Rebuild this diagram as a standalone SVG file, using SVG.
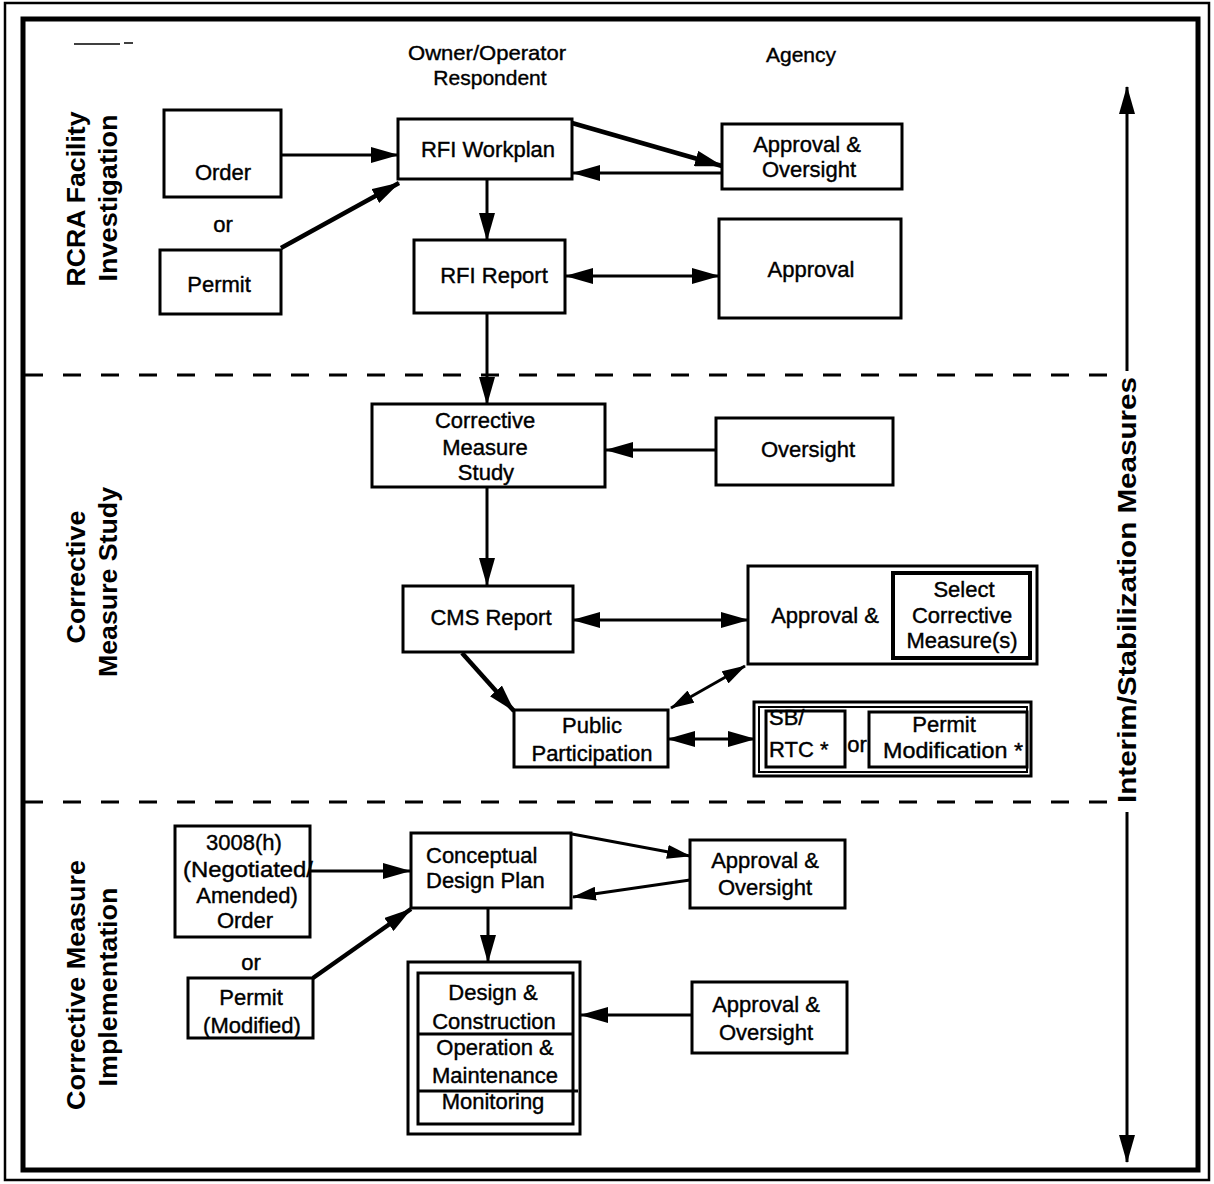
<svg xmlns="http://www.w3.org/2000/svg" width="1214" height="1184" viewBox="0 0 1214 1184">
<style>
.box{fill:#fff;stroke:#000;stroke-width:3}
.t{font-family:"Liberation Sans",Arial,Helvetica,sans-serif;font-size:22px;fill:#000;stroke:#000;stroke-width:0.4;text-anchor:middle}
.th{font-family:"Liberation Sans",Arial,Helvetica,sans-serif;font-size:21px;fill:#000;stroke:#000;stroke-width:0.4;text-anchor:middle}
.tl{font-family:"Liberation Sans",Arial,Helvetica,sans-serif;font-size:22px;fill:#000;stroke:#000;stroke-width:0.4;text-anchor:start}
.lab{font-family:"Liberation Sans",Arial,Helvetica,sans-serif;font-size:26px;font-weight:bold;fill:#000;text-anchor:middle;dominant-baseline:central}
.c{fill:none;stroke:#000;stroke-width:3}
.ck{fill:none;stroke:#000;stroke-width:4.5}
.dash{fill:none;stroke:#000;stroke-width:3;stroke-dasharray:18 20}
</style>
<defs>
<marker id="ah" markerUnits="userSpaceOnUse" markerWidth="28" markerHeight="16" viewBox="0 0 28 16" refX="27" refY="8" orient="auto-start-reverse">
<path d="M0,0 L28,8 L0,16 z" fill="#000"/>
</marker>
<marker id="ahs" markerUnits="userSpaceOnUse" markerWidth="24" markerHeight="14" viewBox="0 0 24 14" refX="23" refY="7" orient="auto-start-reverse">
<path d="M0,0 L24,7 L0,14 z" fill="#000"/>
</marker>
</defs>
<rect x="0" y="0" width="1214" height="1184" fill="#fff"/>
<g id="frame">
<rect x="5" y="3" width="1204" height="1177" fill="none" stroke="#000" stroke-width="2.5"/>
<rect x="23" y="19" width="1175" height="1151" fill="none" stroke="#000" stroke-width="5"/>
<line x1="74" y1="44" x2="120" y2="44" stroke="#000" stroke-width="1.5"/>
<line x1="124" y1="43" x2="133" y2="43" stroke="#000" stroke-width="1.5"/>
<line x1="25" y1="375" x2="1108" y2="375" class="dash"/>
<line x1="25" y1="802" x2="1110" y2="802" class="dash"/>
</g>
<g id="headers">
<text class="th" x="487" y="60" textLength="158" lengthAdjust="spacingAndGlyphs">Owner/Operator</text>
<text class="th" x="490" y="85">Respondent</text>
<text class="th" x="801" y="62">Agency</text>
</g>
<g id="phase-labels">
<text class="lab" transform="translate(76,199) rotate(-90)" textLength="175" lengthAdjust="spacingAndGlyphs">RCRA Facility</text>
<text class="lab" transform="translate(108,198) rotate(-90)" textLength="167" lengthAdjust="spacingAndGlyphs">Investigation</text>
<text class="lab" transform="translate(76,577) rotate(-90)" textLength="133" lengthAdjust="spacingAndGlyphs">Corrective</text>
<text class="lab" transform="translate(108,582) rotate(-90)" textLength="190" lengthAdjust="spacingAndGlyphs">Measure Study</text>
<text class="lab" transform="translate(76,985) rotate(-90)" textLength="250" lengthAdjust="spacingAndGlyphs">Corrective Measure</text>
<text class="lab" transform="translate(108,987) rotate(-90)" textLength="199" lengthAdjust="spacingAndGlyphs">Implementation</text>
<text class="lab" transform="translate(1127,590) rotate(-90)" textLength="426" lengthAdjust="spacingAndGlyphs">Interim/Stabilization  Measures</text>
</g>
<g id="connectors">
<line class="c" x1="281" y1="155" x2="398" y2="155" marker-end="url(#ah)"/>
<line class="ck" x1="281" y1="248" x2="399" y2="183" marker-end="url(#ah)"/>
<line class="ck" x1="572" y1="123" x2="722" y2="166" marker-end="url(#ah)"/>
<line class="c" x1="722" y1="173" x2="573" y2="173" marker-end="url(#ah)"/>
<line class="c" x1="487" y1="180" x2="487" y2="240" marker-end="url(#ah)"/>
<line class="c" x1="566" y1="276" x2="719" y2="276" marker-start="url(#ah)" marker-end="url(#ah)"/>
<line class="c" x1="487" y1="314" x2="487" y2="404" marker-end="url(#ah)"/>
<line class="c" x1="716" y1="450" x2="606" y2="450" marker-end="url(#ah)"/>
<line class="c" x1="487" y1="487" x2="487" y2="585" marker-end="url(#ah)"/>
<line class="c" x1="573" y1="620" x2="748" y2="620" marker-start="url(#ah)" marker-end="url(#ah)"/>
<line class="ck" x1="462" y1="653" x2="514" y2="711" marker-end="url(#ah)"/>
<line class="c" x1="671" y1="708" x2="745" y2="666" marker-start="url(#ahs)" marker-end="url(#ahs)"/>
<line class="c" x1="668" y1="739" x2="755" y2="739" marker-start="url(#ah)" marker-end="url(#ah)"/>
<line class="c" x1="311" y1="871" x2="410" y2="871" marker-end="url(#ah)"/>
<line class="ck" x1="313" y1="978" x2="411" y2="909" marker-end="url(#ah)"/>
<line class="c" x1="572" y1="834" x2="690" y2="856" marker-end="url(#ahs)"/>
<line class="c" x1="690" y1="880" x2="573" y2="897" marker-end="url(#ahs)"/>
<line class="c" x1="488" y1="908" x2="488" y2="962" marker-end="url(#ah)"/>
<line class="c" x1="692" y1="1015" x2="581" y2="1015" marker-end="url(#ah)"/>
<line class="c" x1="1127" y1="371" x2="1127" y2="87" marker-end="url(#ah)"/>
<line class="c" x1="1127" y1="812" x2="1127" y2="1162" marker-end="url(#ah)"/>
</g>
<g id="order">
<rect class="box" x="164" y="110" width="117" height="87"/>
<text class="t" x="223" y="180">Order</text>
</g>
<g id="or1"><text class="t" x="223" y="232">or</text></g>
<g id="permit">
<rect class="box" x="160" y="250" width="121" height="64"/>
<text class="t" x="219" y="292">Permit</text>
</g>
<g id="rfi-workplan">
<rect class="box" x="398" y="119" width="174" height="60"/>
<text class="t" x="488" y="157">RFI Workplan</text>
</g>
<g id="approval-oversight-1">
<rect class="box" x="722" y="124" width="180" height="65"/>
<text class="t" x="807" y="152">Approval &amp;</text>
<text class="t" x="809" y="177">Oversight</text>
</g>
<g id="rfi-report">
<rect class="box" x="414" y="240" width="151" height="73"/>
<text class="t" x="494" y="283">RFI Report</text>
</g>
<g id="approval-1">
<rect class="box" x="719" y="219" width="182" height="99"/>
<text class="t" x="811" y="277">Approval</text>
</g>
<g id="cms">
<rect class="box" x="372" y="404" width="233" height="83"/>
<text class="t" x="485" y="428">Corrective</text>
<text class="t" x="485" y="455">Measure</text>
<text class="t" x="486" y="480">Study</text>
</g>
<g id="oversight">
<rect class="box" x="716" y="418" width="177" height="67"/>
<text class="t" x="808" y="457">Oversight</text>
</g>
<g id="cms-report">
<rect class="box" x="403" y="586" width="170" height="66"/>
<text class="t" x="491" y="625">CMS Report</text>
</g>
<g id="approval-select">
<rect class="box" x="748" y="566" width="289" height="98"/>
<text class="t" x="825" y="623">Approval &amp;</text>
<rect class="box" x="893" y="573" width="137" height="85" style="stroke-width:4"/>
<text class="t" x="964" y="597">Select</text>
<text class="t" x="962" y="623">Corrective</text>
<text class="t" x="962" y="648">Measure(s)</text>
</g>
<g id="public-participation">
<rect class="box" x="514" y="710" width="154" height="57"/>
<text class="t" x="592" y="733">Public</text>
<text class="t" x="592" y="761">Participation</text>
</g>
<g id="sb-permit-mod">
<rect class="box" x="754" y="702" width="277" height="74"/>
<rect x="759" y="707" width="268" height="65" fill="none" stroke="#000" stroke-width="2"/>
<rect class="box" x="766" y="711" width="79" height="56"/>
<text class="tl" x="769" y="725">SB/</text>
<text class="tl" x="769" y="757">RTC *</text>
<text class="t" x="857" y="752">or</text>
<rect class="box" x="869" y="712" width="158" height="55"/>
<text class="t" x="944" y="732">Permit</text>
<text class="t" x="953" y="758" textLength="140" lengthAdjust="spacingAndGlyphs">Modification *</text>
</g>
<g id="order-3008h">
<rect class="box" x="175" y="826" width="135" height="111"/>
<text class="t" x="244" y="850">3008(h)</text>
<text class="t" x="248" y="877" textLength="130" lengthAdjust="spacingAndGlyphs">(Negotiated/</text>
<text class="t" x="247" y="903">Amended)</text>
<text class="t" x="245" y="928">Order</text>
</g>
<g id="or2"><text class="t" x="251" y="970">or</text></g>
<g id="permit-modified">
<rect class="box" x="188" y="978" width="125" height="60"/>
<text class="t" x="251" y="1005">Permit</text>
<text class="t" x="252" y="1033">(Modified)</text>
</g>
<g id="conceptual-design">
<rect class="box" x="411" y="833" width="160" height="75"/>
<text class="tl" x="426" y="863">Conceptual</text>
<text class="tl" x="426" y="888">Design Plan</text>
</g>
<g id="approval-oversight-2">
<rect class="box" x="690" y="840" width="155" height="68"/>
<text class="t" x="765" y="868">Approval &amp;</text>
<text class="t" x="765" y="895">Oversight</text>
</g>
<g id="design-construction">
<rect class="box" x="408" y="962" width="172" height="172"/>
<rect class="box" x="418" y="973" width="155" height="151"/>
<line x1="418" y1="1034" x2="573" y2="1034" stroke="#000" stroke-width="3"/>
<line x1="418" y1="1091" x2="578" y2="1091" stroke="#000" stroke-width="3"/>
<text class="t" x="493" y="1000">Design &amp;</text>
<text class="t" x="494" y="1029">Construction</text>
<text class="t" x="495" y="1055">Operation &amp;</text>
<text class="t" x="495" y="1083">Maintenance</text>
<text class="t" x="493" y="1109">Monitoring</text>
</g>
<g id="approval-oversight-3">
<rect class="box" x="692" y="982" width="155" height="71"/>
<text class="t" x="766" y="1012">Approval &amp;</text>
<text class="t" x="766" y="1040">Oversight</text>
</g>
</svg>
